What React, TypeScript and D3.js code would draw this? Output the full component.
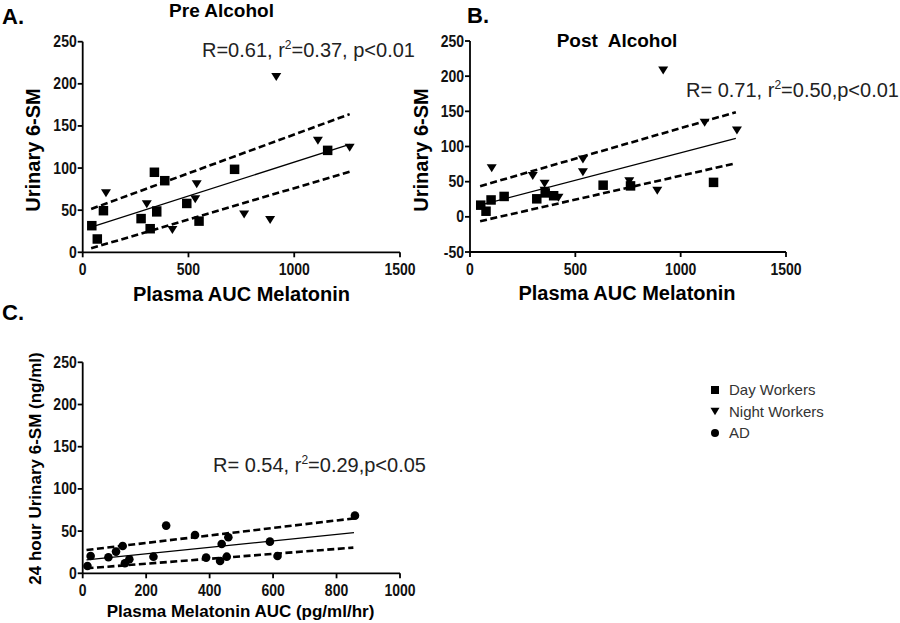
import React from "react";
import * as d3 from "d3";

// ---------- data ----------
const preDay: [number, number][] = [
  [43, 31.6], [69, 15.8], [98, 49.4], [276, 40], [319, 28], [339, 95], [350, 48],
  [388, 85], [492, 58], [550, 37], [718, 98.5], [1158, 121],
];
const preNight: [number, number][] = [
  [110, 70], [303, 57], [350, 50], [424, 26.5], [539, 80.7], [532, 63], [763, 45],
  [886, 38.4], [915, 208], [1112, 132.5], [1262, 124],
];
const preFit: [number, number][] = [[40, 30], [1262, 128]];
const preUpper: [number, number][] = [[40, 51.4], [1262, 164]];
const preLower: [number, number][] = [[40, 4.7], [1262, 95.7]];

const postDay: [number, number][] = [
  [51, 16.6], [76, 8], [100, 24], [162, 29], [317, 25.6], [357, 34], [397, 30],
  [632, 45], [762, 44], [1156, 49],
];
const postNight: [number, number][] = [
  [103, 69], [298, 58], [354, 47], [354, 37], [420, 27], [536, 81.5], [536, 63.5],
  [756, 50.7], [889, 37], [917, 208], [1114, 133.6], [1267, 122.7],
];
const postFit: [number, number][] = [[48, 16.5], [1262, 111.4]];
const postUpper: [number, number][] = [[48, 43.6], [1262, 148.8]];
const postLower: [number, number][] = [[48, -6.2], [1250, 75.4]];

const adPoints: [number, number][] = [
  [15, 8.7], [25, 20.5], [81, 19], [105, 25.7], [126, 32.4], [133, 11.9], [147, 16.6],
  [223, 19.7], [263, 56.5], [354, 45.4], [389, 18.6], [433, 14.6], [438, 34.8],
  [459, 42.7], [454, 19.7], [590, 37.5], [614, 20.5], [858, 68.3],
];
const adFit: [number, number][] = [[12, 15.8], [855, 48.2]];
const adUpper: [number, number][] = [[12, 27.6], [858, 65.2]];
const adLower: [number, number][] = [[12, 5.9], [853, 30.4]];

const abTicksX = [0, 500, 1000, 1500];
const aTicksY = [0, 50, 100, 150, 200, 250];
const bTicksY = [-50, 0, 50, 100, 150, 200, 250];
const cTicksX = [0, 200, 400, 600, 800, 1000];
const cTicksY = [0, 50, 100, 150, 200, 250];

const legendLabels = ["Day Workers", "Night Workers", "AD"];

// ---------- helpers ----------
const FONT = "'Liberation Sans', Arial, sans-serif";

type Scale = d3.ScaleLinear<number, number>;

function Square({ x, y, s = 9.5 }: { x: number; y: number; s?: number }) {
  return <rect x={x - s / 2} y={y - s / 2} width={s} height={s} fill="#000" />;
}
function Tri({ x, y, w = 10, h = 8 }: { x: number; y: number; w?: number; h?: number }) {
  return (
    <path
      d={`M${x - w / 2},${y - h / 2}L${x + w / 2},${y - h / 2}L${x},${y + h / 2}Z`}
      fill="#000"
    />
  );
}
function Dot({ x, y, r = 4.3 }: { x: number; y: number; r?: number }) {
  return <circle cx={x} cy={y} r={r} fill="#000" />;
}

function Axes({
  xs, ys, xt, yt, fs = 14,
}: { xs: Scale; ys: Scale; xt: number[]; yt: number[]; fs?: number }) {
  const [x0, x1] = xs.range();
  const [y0, y1] = ys.range();
  const sw = 1.8;
  return (
    <g fontFamily={FONT} fontWeight="bold" fontSize={fs} fill="#111">
      <line x1={x0} x2={x0} y1={y0} y2={y1} stroke="#000" strokeWidth={sw} />
      <line x1={x0} x2={x1} y1={y0} y2={y0} stroke="#000" strokeWidth={sw} />
      {yt.map((t) => (
        <g key={"y" + t}>
          <line x1={x0 - 5} x2={x0} y1={ys(t)} y2={ys(t)} stroke="#000" strokeWidth={sw} />
          <text
            transform={`translate(${x0 - 6},${ys(t) + 5.5}) scale(1,1.2)`}
            textAnchor="end"
          >
            {t}
          </text>
        </g>
      ))}
      {xt.map((t) => (
        <g key={"x" + t}>
          <line x1={xs(t)} x2={xs(t)} y1={y0} y2={y0 + 5} stroke="#000" strokeWidth={sw} />
          <text
            transform={`translate(${xs(t)},${y0 + 23}) scale(1,1.2)`}
            textAnchor="middle"
          >
            {t}
          </text>
        </g>
      ))}
    </g>
  );
}

function Lines({
  xs, ys, fit, up, lo,
}: { xs: Scale; ys: Scale; fit: [number, number][]; up: [number, number][]; lo: [number, number][] }) {
  const line = d3.line<[number, number]>().x((d) => xs(d[0])).y((d) => ys(d[1]));
  return (
    <g fill="none" stroke="#000">
      <path d={line(fit) || ""} strokeWidth={1.3} />
      <path d={line(up) || ""} strokeWidth={2.6} strokeDasharray="7,3.5" />
      <path d={line(lo) || ""} strokeWidth={2.6} strokeDasharray="7,3.5" />
    </g>
  );
}

function Stat({ x, y, a, b }: { x: number; y: number; a: string; b: string }) {
  return (
    <text x={x} y={y} fontFamily={FONT} fontSize={20} fill="#222">
      {a}
      <tspan fontSize={12} dy={-8}>2</tspan>
      <tspan dy={8}>{b}</tspan>
    </text>
  );
}

export default function App() {
  // Panel A
  const ax = d3.scaleLinear().domain([0, 1500]).range([82.7, 400]);
  const ay = d3.scaleLinear().domain([0, 250]).range([252.3, 41.7]);
  // Panel B
  const bx = d3.scaleLinear().domain([0, 1500]).range([470, 786]);
  const by = d3.scaleLinear().domain([-50, 250]).range([252, 41]);
  // Panel C
  const cx = d3.scaleLinear().domain([0, 1000]).range([82.7, 400]);
  const cy = d3.scaleLinear().domain([0, 250]).range([573.3, 362.3]);

  return (
    <svg
      width={900}
      height={623}
      style={{ position: "absolute", left: 0, top: 0, background: "#fff" }}
    >
      <rect width={900} height={623} fill="#fff" />

      {/* Panel A */}
      <text x={2} y={24} fontFamily={FONT} fontWeight="bold" fontSize={22}>A.</text>
      <text x={221.5} y={17} fontFamily={FONT} fontWeight="bold" fontSize={19} textAnchor="middle">
        Pre Alcohol
      </text>
      <Axes xs={ax} ys={ay} xt={abTicksX} yt={aTicksY} />
      <Lines xs={ax} ys={ay} fit={preFit} up={preUpper} lo={preLower} />
      {preDay.map((d, i) => <Square key={"ad" + i} x={ax(d[0])} y={ay(d[1])} />)}
      {preNight.map((d, i) => <Tri key={"an" + i} x={ax(d[0])} y={ay(d[1])} />)}
      <Stat x={202} y={57} a="R=0.61, r" b="=0.37, p<0.01" />
      <text
        transform="translate(40,150) rotate(-90)"
        fontFamily={FONT} fontWeight="bold" fontSize={20} textAnchor="middle"
      >
        Urinary 6-SM
      </text>
      <text x={241.5} y={301} fontFamily={FONT} fontWeight="bold" fontSize={20} textAnchor="middle">
        Plasma AUC Melatonin
      </text>

      {/* Panel B */}
      <text x={467} y={23} fontFamily={FONT} fontWeight="bold" fontSize={22}>B.</text>
      <text x={617} y={47} fontFamily={FONT} fontWeight="bold" fontSize={19} textAnchor="middle"
        style={{ whiteSpace: "pre" }}>
        {"Post  Alcohol"}
      </text>
      <Axes xs={bx} ys={by} xt={abTicksX} yt={bTicksY} />
      <Lines xs={bx} ys={by} fit={postFit} up={postUpper} lo={postLower} />
      {postDay.map((d, i) => <Square key={"bd" + i} x={bx(d[0])} y={by(d[1])} />)}
      {postNight.map((d, i) => <Tri key={"bn" + i} x={bx(d[0])} y={by(d[1])} />)}
      <Stat x={686} y={97} a="R= 0.71, r" b="=0.50,p<0.01" />
      <text
        transform="translate(428,150) rotate(-90)"
        fontFamily={FONT} fontWeight="bold" fontSize={20} textAnchor="middle"
      >
        Urinary 6-SM
      </text>
      <text x={627} y={300} fontFamily={FONT} fontWeight="bold" fontSize={20} textAnchor="middle">
        Plasma AUC Melatonin
      </text>

      {/* Panel C */}
      <text x={2} y={320} fontFamily={FONT} fontWeight="bold" fontSize={22}>C.</text>
      <Axes xs={cx} ys={cy} xt={cTicksX} yt={cTicksY} />
      <Lines xs={cx} ys={cy} fit={adFit} up={adUpper} lo={adLower} />
      {adPoints.map((d, i) => <Dot key={"c" + i} x={cx(d[0])} y={cy(d[1])} />)}
      <Stat x={213} y={472} a="R= 0.54, r" b="=0.29,p<0.05" />
      <text
        transform="translate(41,468.5) rotate(-90)"
        fontFamily={FONT} fontWeight="bold" fontSize={17} textAnchor="middle"
      >
        24 hour Urinary 6-SM (ng/ml)
      </text>
      <text x={240.5} y={617} fontFamily={FONT} fontWeight="bold" fontSize={17} textAnchor="middle">
        Plasma Melatonin AUC (pg/ml/hr)
      </text>

      {/* Legend */}
      <g fontFamily={FONT} fontSize={15} fill="#333">
        {legendLabels.map((l, i) => {
          const y = 395 + i * 21.5;
          return (
            <g key={l}>
              {i === 0 && <Square x={715} y={y - 5} s={8} />}
              {i === 1 && <Tri x={715} y={y - 5} w={9} h={7.5} />}
              {i === 2 && <Dot x={715} y={y - 5} r={4} />}
              <text x={729} y={y}>{l}</text>
            </g>
          );
        })}
      </g>
    </svg>
  );
}
